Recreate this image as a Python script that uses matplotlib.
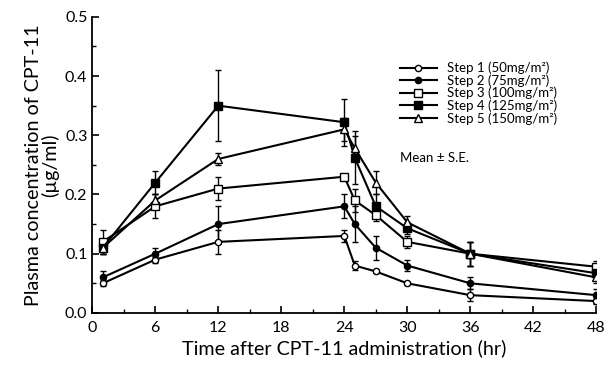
import matplotlib
matplotlib.use("Agg")
import matplotlib.pyplot as plt
from matplotlib.ticker import MultipleLocator
from matplotlib.lines import Line2D

plt.rcParams['font.family'] = ['Lato', 'DejaVu Sans']

times = [1, 6, 12, 24, 25, 27, 30, 36, 48]
labels = ["Step 1 (50mg/m²)", "Step 2 (75mg/m²)", "Step 3 (100mg/m²)",
          "Step 4 (125mg/m²)", "Step 5 (150mg/m²)"]
step1 = [0.05, 0.09, 0.12, 0.13, 0.08, 0.07, 0.05, 0.03, 0.02]
step1_se = [0.005, 0.005, 0.02, 0.01, 0.008, 0.003, 0.003, 0.01, 0.005]
step2 = [0.06, 0.10, 0.15, 0.18, 0.15, 0.11, 0.08, 0.05, 0.03]
step2_se = [0.01, 0.01, 0.03, 0.02, 0.03, 0.02, 0.01, 0.01, 0.01]
step3 = [0.12, 0.18, 0.21, 0.23, 0.19, 0.165, 0.12, 0.10, 0.078]
step3_se = [0.02, 0.02, 0.02, 0.003, 0.02, 0.01, 0.01, 0.02, 0.01]
step4 = [0.11, 0.22, 0.35, 0.322, 0.262, 0.18, 0.143, 0.10, 0.067]
step4_se = [0.01, 0.02, 0.06, 0.04, 0.045, 0.02, 0.01, 0.02, 0.01]
step5 = [0.11, 0.19, 0.26, 0.31, 0.278, 0.22, 0.153, 0.10, 0.06]
step5_se = [0.01, 0.01, 0.01, 0.02, 0.02, 0.02, 0.01, 0.02, 0.01]

series = [step1, step2, step3, step4, step5]
errors = [step1_se, step2_se, step3_se, step4_se, step5_se]
markers = ['o', 'o', 's', 's', '^']
faces = ['white', 'black', 'white', 'black', 'white']
msizes = [4.5, 4.5, 5.5, 5.5, 5.5]

fig = plt.figure(figsize=(6.11, 3.66), dpi=100)
ax = fig.add_axes([0.151, 0.145, 0.825, 0.809])

for y, e, m, f, ms in zip(series, errors, markers, faces, msizes):
    ax.errorbar(times, y, yerr=e, color='black', lw=1.5, marker=m, mfc=f,
                mec='black', ms=ms, mew=1.0, capsize=2, elinewidth=1.0,
                capthick=1.0)

ax.set_xlim(0, 48)
ax.set_ylim(0, 0.5)
ax.xaxis.set_major_locator(MultipleLocator(6))
ax.xaxis.set_minor_locator(MultipleLocator(3))
ax.yaxis.set_major_locator(MultipleLocator(0.1))
ax.yaxis.set_minor_locator(MultipleLocator(0.05))
ax.yaxis.set_major_formatter(matplotlib.ticker.FormatStrFormatter('%.1f'))
ax.spines['top'].set_visible(False)
ax.spines['right'].set_visible(False)
for s in ['left', 'bottom']:
    ax.spines[s].set_linewidth(1.3)
ax.tick_params(which='major', direction='in', length=5, width=1.2, labelsize=11.5)
ax.tick_params(axis='x', which='major', pad=6)
ax.tick_params(which='minor', direction='in', length=3, width=1.0)
ax.set_xlabel("Time after CPT-11 administration (hr)", fontsize=14.2, labelpad=3)
ax.set_ylabel("Plasma concentration of CPT-11\n(µg/ml)", fontsize=14.2,
              labelpad=4, linespacing=0.95)

handles = [Line2D([0], [0], color='black', lw=1.5, marker=m, mfc=f, mec='black',
                  ms=ms, mew=1.0)
           for m, f, ms in zip(markers, faces, msizes)]
leg = ax.legend(handles, labels, loc='upper left', bbox_to_anchor=(0.6, 0.866),
                frameon=False, fontsize=9.5, handlelength=2.8, labelspacing=0.0,
                handletextpad=0.8, borderaxespad=0)
ax.text(0.61, 0.523, "Mean ± S.E.", transform=ax.transAxes, fontsize=9.5,
        va='center', ha='left')

fig.savefig("out.png", dpi=100)
